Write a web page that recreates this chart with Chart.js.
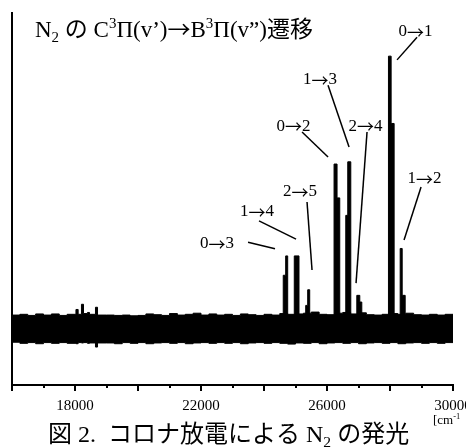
<!DOCTYPE html>
<html>
<head>
<meta charset="utf-8">
<script src="https://cdn.jsdelivr.net/npm/chart.js@4.4.0/dist/chart.umd.min.js"></script>
<style>
html, body { margin: 0; padding: 0; background: #fff; }
</style>
</head>
<body>
<canvas id="spectrum" width="466" height="448"></canvas>
<script>
// noise band envelope
const noiseWn = [16000, 16250, 16500, 16750, 17000, 17250, 17500, 17750,
    18030, 18100, 18205, 18270, 18395, 18460, 18650, 18715,
    19000, 19250, 19500, 19750, 20000, 20250, 20500, 20750, 21000, 21250, 21500, 21750,
    22000, 22250, 22500, 22750, 23000, 23250, 23500, 23750, 24000, 24250, 24500, 24750,
    25000, 25250, 25500, 25750, 26000, 26250, 26500, 26750, 27000, 27250, 27500, 27750,
    28000, 28250, 28500, 28750, 29000, 29250, 29500, 29750, 30000];
const noiseTop = [18.8, 19.0, 18.7, 19.1, 18.8, 19.1, 18.7, 19.0,
    20.3, 19.0, 21.7, 19.2, 19.5, 19.0, 20.9, 18.8,
    18.8, 18.7, 18.8, 18.6, 18.7, 19.1, 18.9, 18.7, 19.2, 18.8, 19.0, 19.3,
    18.8, 19.1, 18.8, 19.0, 18.7, 19.1, 18.9, 18.7, 19.0, 18.8, 19.2, 19.0,
    19.1, 19.3, 19.6, 19.0, 18.9, 19.3, 19.5, 19.1, 19.4, 18.9, 18.8, 19.0,
    19.2, 19.0, 19.3, 18.9, 18.8, 19.0, 18.8, 19.0, 18.9];
const noiseBottom = [11.5, 11.2, 11.4, 11.1, 11.4, 11.2, 11.4, 11.2,
    11.1, 11.4, 11.3, 11.4, 11.2, 11.3, 10.2, 11.3,
    11.3, 11.1, 11.4, 11.2, 11.4, 11.1, 11.3, 11.4, 11.2, 11.4, 11.1, 11.3,
    11.4, 11.2, 11.4, 11.2, 11.4, 11.1, 11.3, 11.4, 11.2, 11.4, 11.2, 11.0,
    11.3, 11.2, 11.4, 11.1, 11.3, 11.4, 11.2, 11.4, 11.1, 11.3, 11.4, 11.2,
    11.4, 11.1, 11.3, 11.4, 11.2, 11.4, 11.2, 11.4, 11.3];

// emission bands (stepped, each level holds until the next wavenumber)
const baseLevel = 15;
const peakWn = [16000, 24611, 24688, 24752, 24961, 25111, 25324, 25387, 25451,
    26224, 26319, 26405, 26596, 26659, 26755, 26946, 27041, 27105,
    27951, 28036, 28131, 28323, 28387, 28482, 30000];
const peakLevel = [15, 29.5, 34.7, 15, 34.7, 15, 21.4, 25.6, 15,
    59.4, 50.3, 15, 45.6, 60.0, 15, 24.1, 22.3, 15,
    88.4, 70.3, 15, 36.7, 24.1, 15, 15];

// band labels and their leader lines
const bandNames = ['0→1', '1→3', '0→2', '2→4', '1→2', '2→5', '1→4', '0→3'];
const labelWn = [28811, 25779, 24938, 27224, 29097, 25144, 23779, 22509];
const labelLevel = [94.9, 82.0, 69.6, 69.6, 55.4, 51.9, 46.5, 37.9];
const leaderFromWn = [28859, 26033, 25208, 27271, 28986, 25366, 23842, 23493];
const leaderFromLevel = [93.5, 80.6, 68.0, 68.0, 53.2, 49.2, 44.1, 38.4];
const leaderToWn = [28224, 26700, 26033, 26922, 28446, 25525, 25017, 24350];
const leaderToLevel = [87.4, 64.0, 61.3, 27.4, 39.0, 30.9, 39.2, 36.6];

const tickValues = [16000, 17000, 18000, 19000, 20000, 21000, 22000, 23000,
    24000, 25000, 26000, 27000, 28000, 29000, 30000];
const labeledTicks = [18000, 22000, 26000, 30000];

const serif = '"Liberation Serif", "Noto Sans CJK JP"';
const cjk = '"Noto Sans CJK JP"';

function pairs(xs, ys) {
    return xs.map((x, i) => ({ x: x, y: ys[i] }));
}

// split arrows out so they use the wide CJK glyph
function expand(parts) {
    const out = [];
    parts.forEach(p => {
        p[0].split(/(→)/).forEach(s => {
            if (s === '') return;
            out.push(s === '→' ? [s, 'cjk'] : [s, p[1]]);
        });
    });
    return out;
}

function partFont(p, size) {
    if (p[1] === 'sub' || p[1] === 'sup') return (size * 0.65) + 'px ' + serif;
    if (p[1] === 'cjk') return size + 'px ' + cjk;
    return size + 'px ' + serif;
}

function measureRich(ctx, parts, size) {
    let w = 0;
    expand(parts).forEach(p => {
        ctx.font = partFont(p, size);
        w += ctx.measureText(p[0]).width;
    });
    return w;
}

function richText(ctx, parts, x, y, size) {
    expand(parts).forEach(p => {
        let dy = 0;
        if (p[1] === 'sub') dy = size * 0.22;
        if (p[1] === 'sup') dy = -size * 0.38;
        if (p[1] === 'cjk') dy = size * 0.04;
        ctx.font = partFont(p, size);
        ctx.fillText(p[0], x, y + dy);
        x += ctx.measureText(p[0]).width;
    });
    return x;
}

const decor = {
    id: 'decor',
    afterDraw(chart) {
        const ctx = chart.ctx;
        const xs = chart.scales.x, ys = chart.scales.y;
        const bottom = chart.chartArea.bottom;
        ctx.save();
        ctx.fillStyle = '#000';
        ctx.strokeStyle = '#000';

        // axis ticks
        ctx.lineWidth = 2;
        tickValues.forEach(v => {
            const px = Math.round(xs.getPixelForValue(v));
            const len = v % 2000 === 0 ? 6 : 3;
            ctx.beginPath();
            ctx.moveTo(px, bottom);
            ctx.lineTo(px, bottom + len);
            ctx.stroke();
        });
        ctx.font = '15px ' + serif;
        ctx.textAlign = 'center';
        ctx.textBaseline = 'middle';
        labeledTicks.forEach(v => {
            ctx.fillText(String(v), xs.getPixelForValue(v), 406);
        });

        // leader lines and band labels
        ctx.textAlign = 'left';
        ctx.lineWidth = 1.5;
        bandNames.forEach((name, i) => {
            ctx.beginPath();
            ctx.moveTo(xs.getPixelForValue(leaderFromWn[i]), ys.getPixelForValue(leaderFromLevel[i]));
            ctx.lineTo(xs.getPixelForValue(leaderToWn[i]), ys.getPixelForValue(leaderToLevel[i]));
            ctx.stroke();
            const w = measureRich(ctx, [[name, '']], 17);
            richText(ctx, [[name, '']], xs.getPixelForValue(labelWn[i]) - w / 2,
                ys.getPixelForValue(labelLevel[i]), 17);
        });

        // title inside plot, caption and unit
        ctx.textBaseline = 'alphabetic';
        richText(ctx, [['N', ''], ['2', 'sub'], [' の ', ''], ['C', ''], ['3', 'sup'],
            ['Π(v’)→B', ''], ['3', 'sup'], ['Π(v”)遷移', '']], 35, 37, 23);
        richText(ctx, [['図 2.  コロナ放電による N', ''], ['2', 'sub'], [' の発光', '']], 48, 442, 24);
        richText(ctx, [['[cm', ''], ['-1', 'sup']], 433, 424, 13);
        ctx.restore();
    }
};

new Chart(document.getElementById('spectrum'), {
    type: 'line',
    data: {
        datasets: [{
            label: 'noise low',
            data: pairs(noiseWn, noiseBottom),
            stepped: true,
            borderColor: '#000',
            borderWidth: 1,
            pointRadius: 0,
            fill: false
        }, {
            label: 'noise high',
            data: pairs(noiseWn, noiseTop),
            stepped: true,
            borderColor: '#000',
            backgroundColor: '#000',
            borderWidth: 1,
            pointRadius: 0,
            fill: '-1'
        }, {
            label: 'spectrum',
            data: pairs(peakWn, peakLevel),
            stepped: true,
            borderColor: '#000',
            backgroundColor: '#000',
            borderWidth: 1,
            pointRadius: 0,
            fill: { value: baseLevel }
        }]
    },
    options: {
        responsive: false,
        animation: false,
        layout: { padding: { left: 12, right: 13, top: 13, bottom: 63 } },
        plugins: {
            legend: { display: false },
            tooltip: { enabled: false }
        },
        scales: {
            x: {
                type: 'linear',
                min: 16000,
                max: 30000,
                grid: { display: false, drawTicks: false },
                ticks: { display: false },
                border: { display: true, color: '#000', width: 2 }
            },
            y: {
                min: 0,
                max: 100,
                grid: { display: false, drawTicks: false },
                ticks: { display: false },
                border: { display: true, color: '#000', width: 2 }
            }
        }
    },
    plugins: [decor]
});
</script>
</body>
</html>
